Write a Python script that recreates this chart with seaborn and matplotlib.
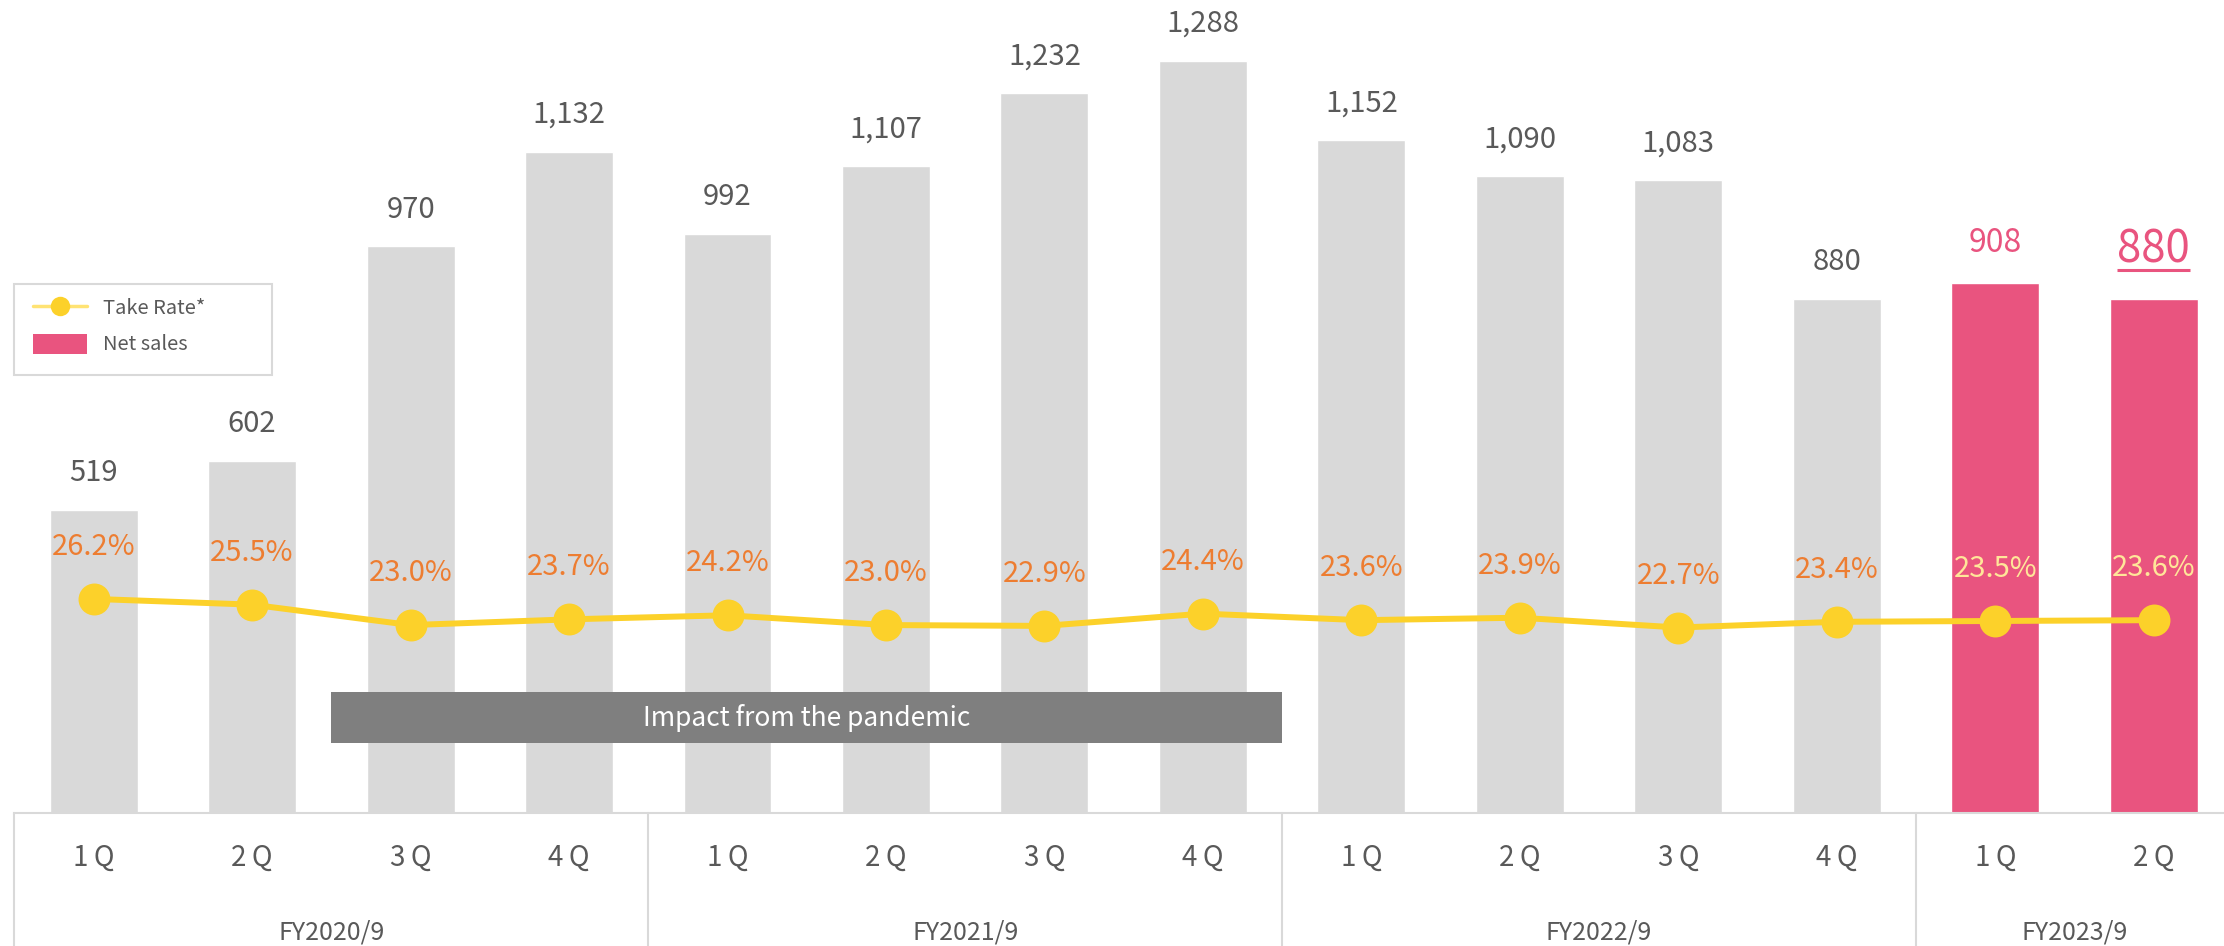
import numpy as np
import pandas as pd
import matplotlib
matplotlib.use("Agg")
import matplotlib.pyplot as plt
import seaborn as sns
from matplotlib.lines import Line2D
from matplotlib.patches import Patch, Rectangle
import matplotlib.transforms as mtrans

# ---------------- data ----------------
quarters = ["1Q", "2Q", "3Q", "4Q", "1Q", "2Q", "3Q", "4Q", "1Q", "2Q", "3Q", "4Q", "1Q", "2Q"]
fiscal_years = ["FY2020/9", "FY2021/9", "FY2022/9", "FY2023/9"]
fy_sizes = [4, 4, 4, 2]
net_sales = [519, 602, 970, 1132, 992, 1107, 1232, 1288, 1152, 1090, 1083, 880, 908, 880]
take_rate = [26.2, 25.5, 23.0, 23.7, 24.2, 23.0, 22.9, 24.4, 23.6, 23.9, 22.7, 23.4, 23.5, 23.6]
period_group = ["past"] * 12 + ["current"] * 2
annotation_text = "Impact from the pandemic"
legend_labels = ["Take Rate*", "Net sales"]

# ---------------- style ----------------
sns.set_theme(style="white")
plt.rcParams["font.family"] = ["Noto Sans CJK JP", "DejaVu Sans"]

GRAY_BAR = "#D9D9D9"
PINK = "#E9547F"
YELLOW = "#FCD12A"
ORANGE = "#ED7D31"
PALE = "#FFE699"
TXT = "#595959"

W, H = 2224, 946
fig = plt.figure(figsize=(W / 100, H / 100), dpi=100)
base_px = 813
ax = fig.add_axes([14.4 / W, (H - base_px) / H, (2233 - 14.4) / W, base_px / H])

n = len(net_sales)
labels = [f"{fy}-{q}-{i}" for i, (q, fy) in enumerate(zip(quarters, np.repeat(fiscal_years, fy_sizes)))]
df = pd.DataFrame({"label": labels, "sales": net_sales, "group": period_group, "rate": take_rate})

sns.barplot(data=df, x="label", y="sales", hue="group",
            palette={"past": GRAY_BAR, "current": PINK}, dodge=False,
            width=0.555, saturation=1, legend=False, ax=ax, zorder=1)
ax.set_xlim(-0.5, n - 0.5)
ax.set_ylim(0, 1392)
ax.set_xlabel("")
ax.set_ylabel("")
ax.set_xticks([])
ax.set_yticks([])
for s in ["left", "right", "top"]:
    ax.spines[s].set_visible(False)
ax.spines["bottom"].set_color(GRAY_BAR)
ax.spines["bottom"].set_linewidth(1.5)

# value labels
t880 = None
for i, v in enumerate(net_sales):
    if period_group[i] == "past":
        ax.annotate(f"{v:,}", (i, v), xytext=(0, 26.6), textcoords="offset points",
                    ha="center", va="center", fontsize=21, color=TXT)
    elif i < n - 1:
        ax.annotate(f"{v:,}", (i, v), xytext=(0, 28.8), textcoords="offset points",
                    ha="center", va="center", fontsize=23, color=PINK)
    else:
        t880 = ax.annotate(f"{v:,}", (i, v), xytext=(0, 35.5), textcoords="offset points",
                           ha="center", va="center", fontsize=31.5, color=PINK)

# pandemic box
blend = mtrans.blended_transform_factory(ax.transData, ax.transAxes)
ax.add_patch(Rectangle((1.5, (base_px - 743) / base_px), 6.0, 51 / base_px,
                       transform=blend, facecolor="#7F7F7F", edgecolor="none", zorder=3))
ax.text(4.5, (base_px - 718) / base_px, annotation_text, transform=blend, ha="center",
        va="center", fontsize=19, color="white", zorder=4)

# bottom category axis
for xs in [-0.5, 3.5, 7.5, 11.5, 13.5]:
    ax.plot([xs, xs], [0, -(H - base_px) / base_px], transform=blend, color=GRAY_BAR,
            lw=1.5, clip_on=False)
for i, q in enumerate(quarters):
    ax.text(i, (base_px - 858) / base_px, q[0] + "\u2009" + q[1:], transform=blend,
            ha="center", va="center", fontsize=20, color=TXT, clip_on=False)
start = 0
for fy, sz in zip(fiscal_years, fy_sizes):
    ax.text(start + (sz - 1) / 2, (base_px - 932) / base_px, fy, transform=blend,
            ha="center", va="center", fontsize=18, color=TXT, clip_on=False)
    start += sz

# take-rate line
ax2 = ax.twinx()
sns.lineplot(x=np.arange(n), y=take_rate, ax=ax2, color=YELLOW, linewidth=4.3,
             marker="o", markersize=23, markeredgewidth=0, zorder=5)
ax2.set_ylim(0, 99.5)
ax2.set_xlim(-0.5, n - 0.5)
ax2.set_yticks([])
ax2.set_ylabel("")
for s in ["left", "right", "top", "bottom"]:
    ax2.spines[s].set_visible(False)
for i, r in enumerate(take_rate):
    ax2.annotate(f"{r:.1f}%", (i, r), xytext=(0, 37.4), textcoords="offset points",
                 ha="center", va="center", fontsize=21,
                 color=ORANGE if period_group[i] == "past" else PALE, zorder=6)

# legend
fig.add_artist(Rectangle((14 / W, (H - 375) / H), 258 / W, 91 / H, transform=fig.transFigure,
                         facecolor="white", edgecolor=GRAY_BAR, lw=1.5))
handles = [Line2D([0], [0], color="#FFE373", lw=2.5, marker="o", markersize=14,
                  markerfacecolor=YELLOW, markeredgewidth=0),
           Patch(facecolor=PINK, edgecolor="none")]
leg = fig.legend(handles, legend_labels, loc="center left",
                 bbox_to_anchor=(33 / W, 1 - 326.5 / H), bbox_transform=fig.transFigure,
                 frameon=False, fontsize=14.5, handlelength=2.7, handleheight=1.15,
                 handletextpad=0.8, labelspacing=0.7, borderpad=0, borderaxespad=0)
for t in leg.get_texts():
    t.set_color(TXT)

# underline for latest value
fig.canvas.draw()
bb = t880.get_window_extent(fig.canvas.get_renderer())
x0, _ = ax.transData.inverted().transform((bb.x0, 0))
x1, _ = ax.transData.inverted().transform((bb.x1, 0))
yline = net_sales[-1] + 29 / (base_px / 1392)
ax.plot([x0, x1], [yline, yline], color=PINK, lw=2.2, solid_capstyle="butt", zorder=6)

fig.savefig("out.png", dpi=100)
